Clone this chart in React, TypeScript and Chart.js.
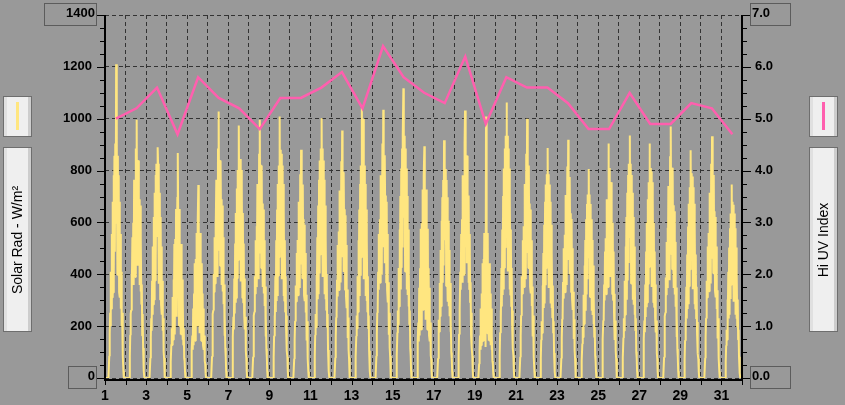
import { useEffect, useRef } from "react";
import { Chart, registerables } from "chart.js";

Chart.register(...registerables);

// ---- data ----
const days = [1, 2, 3, 4, 5, 6, 7, 8, 9, 10, 11, 12, 13, 14, 15, 16, 17, 18, 19, 20, 21, 22, 23, 24, 25, 26, 27, 28, 29, 30, 31];
const monthEnd = 32;
// half-hourly readings from 04:00 to 22:00
const solarHours = [4, 4.5, 5, 5.5, 6, 6.5, 7, 7.5, 8, 8.5, 9, 9.5, 10, 10.5, 11, 11.5, 12, 12.5, 13, 13.5, 14, 14.5, 15, 15.5, 16, 16.5, 17, 17.5, 18, 18.5, 19, 19.5, 20, 20.5, 21, 21.5, 22];
const nightValue = 0;
const uvReadingHour = 12.75;

const solarRadLabel = "Solar Rad - W/m²";
const uvLabel = "Hi UV Index";

const solarTicks = [0, 200, 400, 600, 800, 1000, 1200, 1400];
const uvTicks = [0, 1, 2, 3, 4, 5, 6, 7];
const xTickLabels = [1, 3, 5, 7, 9, 11, 13, 15, 17, 19, 21, 23, 25, 27, 29, 31];
const solarMinorStep = 50;
const uvMinorStep = 0.25;

const uvHigh = [5.0, 5.2, 5.6, 4.7, 5.8, 5.4, 5.2, 4.8, 5.4, 5.4, 5.6, 5.9, 5.2, 6.4, 5.8, 5.5, 5.3, 6.2, 4.9, 5.8, 5.6, 5.6, 5.3, 4.8, 4.8, 5.5, 4.9, 4.9, 5.3, 5.2, 4.7];

// solar radiation (W/m²), one row per day, values at solarHours
const solarRad: number[][] = [
  [0, 0, 85, 169, 252, 200, 410, 267, 555, 310, 680, 330, 782, 412, 857, 487, 904, 595, 1210, 641, 904, 398, 857, 494, 782, 330, 680, 310, 555, 267, 410, 200, 252, 110, 85, 28, 0],
  [0, 0, 83, 166, 247, 261, 401, 332, 543, 364, 599, 359, 765, 484, 713, 390, 885, 627, 996, 493, 841, 433, 839, 524, 689, 359, 665, 334, 543, 284, 361, 163, 247, 116, 83, 27, 0],
  [0, 0, 77, 155, 230, 182, 375, 244, 507, 283, 621, 302, 714, 376, 783, 444, 826, 544, 630, 890, 826, 364, 783, 451, 714, 302, 621, 283, 507, 244, 375, 182, 230, 101, 77, 25, 0],
  [0, 0, 64, 129, 192, 127, 312, 148, 380, 165, 517, 168, 536, 251, 652, 236, 413, 697, 868, 627, 344, 202, 652, 251, 476, 168, 517, 165, 380, 148, 312, 127, 192, 77, 64, 21, 0],
  [0, 0, 55, 110, 164, 109, 268, 126, 326, 141, 443, 144, 459, 215, 559, 202, 354, 598, 744, 538, 295, 173, 559, 215, 408, 144, 443, 141, 326, 126, 268, 109, 164, 66, 55, 18, 0],
  [0, 0, 83, 166, 247, 261, 401, 332, 543, 364, 599, 560, 765, 484, 713, 390, 885, 627, 1028, 493, 841, 433, 839, 620, 689, 359, 665, 334, 543, 284, 361, 163, 247, 116, 83, 27, 0],
  [0, 0, 79, 158, 236, 187, 384, 249, 519, 290, 636, 309, 731, 385, 802, 455, 845, 974, 559, 600, 845, 372, 802, 462, 731, 309, 636, 290, 519, 249, 384, 187, 236, 103, 79, 26, 0],
  [0, 0, 81, 162, 241, 255, 392, 325, 531, 356, 585, 351, 748, 473, 697, 381, 865, 613, 996, 482, 822, 424, 820, 512, 673, 351, 650, 326, 531, 278, 353, 160, 241, 113, 81, 26, 0],
  [0, 0, 81, 162, 241, 191, 392, 255, 531, 297, 650, 316, 748, 394, 820, 466, 1009, 569, 880, 613, 865, 381, 820, 473, 748, 316, 650, 297, 531, 255, 392, 191, 241, 105, 81, 26, 0],
  [0, 0, 74, 147, 219, 232, 357, 295, 482, 323, 532, 319, 680, 430, 634, 347, 786, 558, 880, 438, 747, 385, 746, 465, 612, 319, 591, 296, 482, 253, 321, 145, 219, 103, 74, 24, 0],
  [0, 0, 83, 166, 247, 196, 401, 261, 543, 304, 665, 323, 765, 403, 839, 476, 885, 582, 1002, 627, 885, 390, 839, 484, 765, 323, 665, 304, 543, 261, 401, 196, 247, 108, 83, 27, 0],
  [0, 0, 78, 156, 233, 246, 379, 314, 513, 344, 565, 339, 723, 457, 673, 368, 836, 593, 955, 466, 794, 409, 792, 495, 651, 339, 628, 315, 513, 269, 341, 154, 233, 109, 78, 26, 0],
  [0, 0, 81, 162, 241, 191, 392, 255, 531, 297, 650, 316, 748, 394, 820, 466, 1041, 569, 600, 1000, 865, 381, 820, 473, 748, 316, 650, 297, 531, 255, 392, 191, 241, 105, 81, 26, 0],
  [0, 0, 85, 169, 252, 266, 410, 340, 555, 372, 612, 367, 782, 494, 728, 398, 904, 641, 1035, 504, 859, 443, 857, 535, 704, 367, 680, 341, 555, 291, 369, 167, 252, 118, 85, 28, 0],
  [0, 0, 87, 175, 260, 206, 424, 276, 573, 320, 702, 341, 808, 425, 885, 503, 934, 1117, 618, 662, 934, 411, 885, 553, 808, 341, 702, 320, 573, 276, 424, 206, 260, 114, 87, 29, 0],
  [0, 0, 72, 144, 214, 141, 348, 164, 423, 184, 576, 187, 597, 279, 727, 263, 460, 777, 894, 699, 384, 225, 727, 279, 530, 187, 576, 184, 423, 164, 348, 141, 214, 86, 72, 23, 0],
  [0, 0, 75, 151, 225, 178, 366, 238, 494, 277, 606, 294, 697, 367, 764, 434, 917, 531, 820, 572, 806, 355, 764, 441, 697, 294, 606, 277, 494, 238, 366, 178, 225, 98, 75, 25, 0],
  [0, 0, 85, 169, 252, 266, 410, 340, 555, 372, 612, 367, 782, 494, 728, 398, 904, 1032, 700, 504, 859, 443, 857, 535, 704, 367, 680, 341, 555, 291, 369, 167, 252, 118, 85, 28, 0],
  [0, 0, 55, 110, 164, 109, 268, 126, 326, 141, 443, 144, 459, 215, 559, 464, 354, 120, 1009, 538, 295, 173, 559, 215, 408, 144, 443, 141, 326, 126, 268, 109, 164, 66, 55, 18, 0],
  [0, 0, 87, 175, 260, 206, 424, 276, 573, 320, 702, 341, 808, 425, 885, 503, 934, 615, 1063, 662, 934, 411, 885, 553, 808, 341, 702, 320, 573, 276, 424, 206, 260, 114, 87, 29, 0],
  [0, 0, 81, 162, 241, 255, 392, 325, 531, 356, 585, 351, 748, 473, 697, 381, 865, 613, 1000, 482, 822, 424, 820, 512, 673, 351, 650, 326, 531, 278, 353, 160, 241, 113, 81, 26, 0],
  [0, 0, 74, 147, 219, 174, 357, 232, 482, 270, 591, 287, 680, 358, 746, 424, 786, 518, 887, 558, 786, 347, 746, 430, 680, 287, 591, 270, 482, 232, 357, 174, 219, 96, 74, 24, 0],
  [0, 0, 76, 153, 227, 240, 370, 306, 500, 335, 552, 331, 706, 446, 658, 359, 816, 579, 919, 455, 775, 399, 774, 483, 635, 331, 613, 307, 500, 262, 333, 150, 227, 107, 76, 25, 0],
  [0, 0, 66, 132, 197, 157, 321, 208, 434, 243, 532, 259, 612, 322, 671, 381, 708, 466, 806, 502, 708, 312, 671, 386, 612, 259, 532, 243, 434, 208, 321, 157, 197, 86, 66, 22, 0],
  [0, 0, 75, 149, 222, 234, 361, 299, 488, 328, 539, 323, 689, 435, 642, 351, 904, 565, 810, 444, 756, 390, 755, 471, 620, 323, 599, 300, 488, 256, 325, 147, 222, 104, 75, 24, 0],
  [0, 0, 77, 155, 230, 182, 375, 244, 507, 283, 621, 302, 714, 376, 783, 444, 826, 544, 935, 586, 826, 364, 783, 451, 714, 302, 621, 283, 507, 244, 375, 182, 230, 101, 77, 25, 0],
  [0, 0, 75, 149, 222, 176, 361, 235, 488, 273, 599, 291, 689, 363, 755, 428, 904, 525, 810, 565, 796, 351, 755, 435, 689, 291, 599, 273, 488, 235, 361, 176, 222, 97, 75, 24, 0],
  [0, 0, 80, 160, 238, 252, 388, 321, 525, 352, 579, 347, 740, 467, 690, 377, 855, 607, 970, 477, 812, 419, 811, 506, 666, 347, 643, 322, 525, 275, 349, 158, 238, 112, 80, 26, 0],
  [0, 0, 73, 145, 216, 172, 352, 229, 476, 266, 584, 284, 672, 354, 736, 418, 878, 551, 790, 551, 777, 342, 736, 424, 672, 284, 584, 266, 476, 229, 352, 172, 216, 95, 73, 24, 0],
  [0, 0, 77, 155, 230, 243, 375, 310, 507, 340, 559, 335, 714, 451, 666, 364, 826, 586, 932, 460, 785, 404, 783, 489, 643, 335, 621, 311, 507, 266, 338, 152, 230, 108, 77, 25, 0],
  [0, 0, 63, 125, 186, 148, 303, 197, 410, 229, 503, 244, 578, 305, 634, 360, 746, 440, 680, 474, 668, 294, 634, 365, 578, 244, 503, 229, 410, 197, 303, 148, 186, 82, 63, 20, 0],
];

// ---- style ----
const BG = "#999999";
const YELLOW = "#ffe680";
const PINK = "#ff5fae";
const GRID = "#333333";
const FONT = "'Liberation Sans', Arial, sans-serif";

const decorPlugin = {
  id: "decor",
  beforeDraw(chart: any) {
    const ctx = chart.ctx;
    ctx.save();
    ctx.fillStyle = BG;
    ctx.fillRect(0, 0, chart.width, chart.height);
    ctx.restore();
  },
  afterDraw(chart: any) {
    const ctx = chart.ctx;
    const area = chart.chartArea;
    const ys = chart.scales.ySolar;
    const yu = chart.scales.yUV;
    const xs = chart.scales.x;
    const left = Math.round(area.left);
    const right = Math.round(area.right);
    const top = Math.round(area.top);
    const bottom = Math.round(area.bottom);
    ctx.save();
    // axis lines
    ctx.strokeStyle = "#000";
    ctx.lineWidth = 2;
    ctx.beginPath();
    ctx.moveTo(left, top);
    ctx.lineTo(left, bottom + 3);
    ctx.moveTo(right, top);
    ctx.lineTo(right, bottom + 3);
    ctx.moveTo(left - 1, bottom + 2);
    ctx.lineTo(right + 1, bottom + 2);
    ctx.stroke();
    // ticks
    ctx.lineWidth = 1;
    ctx.beginPath();
    const sMax = solarTicks[solarTicks.length - 1];
    const sMajor = solarTicks[1] - solarTicks[0];
    for (let v = 0; v <= sMax; v += solarMinorStep) {
      const y = Math.round(ys.getPixelForValue(v)) + 0.5;
      const len = v % sMajor === 0 ? 7 : 4;
      ctx.moveTo(left - 1 - len, y);
      ctx.lineTo(left, y);
    }
    const uMax = uvTicks[uvTicks.length - 1];
    for (let v = 0; v <= uMax + 1e-9; v += uvMinorStep) {
      const y = Math.round(yu.getPixelForValue(v)) + 0.5;
      const len = Math.abs(v - Math.round(v)) < 1e-9 ? 8 : 4;
      ctx.moveTo(right, y);
      ctx.lineTo(right + 1 + len, y);
    }
    for (let d = days[0]; d <= monthEnd; d++) {
      const x = Math.round(xs.getPixelForValue(d)) + 0.5;
      ctx.moveTo(x, bottom + 3);
      ctx.lineTo(x, bottom + 7);
    }
    ctx.stroke();

    // min / max boxes
    ctx.strokeStyle = "#5c5c5c";
    ctx.lineWidth = 1;
    const yTop = Math.round(ys.getPixelForValue(sMax));
    const yBot = Math.round(ys.getPixelForValue(0));
    ctx.strokeRect(left - 60.5, yTop - 11.5, 52, 22);
    ctx.strokeRect(left - 36.5, yBot - 11.5, 28, 22);
    ctx.strokeRect(right + 8.5, yTop - 11.5, 40, 22);
    ctx.strokeRect(right + 8.5, yBot - 11.5, 40, 22);
    ctx.fillStyle = "#000";
    ctx.font = `bold 13px ${FONT}`;
    ctx.textBaseline = "middle";
    ctx.textAlign = "right";
    ctx.fillText(String(sMax), left - 10, yTop - 2);
    ctx.fillText(String(solarTicks[0]), left - 10, yBot - 2);
    ctx.textAlign = "left";
    ctx.fillText(uMax.toFixed(1), right + 10, yTop - 2);
    ctx.fillText(uvTicks[0].toFixed(1), right + 10, yBot - 2);

    // legend panels
    const panel = (x: number, y: number, w: number, h: number) => {
      ctx.fillStyle = "#efefef";
      ctx.fillRect(x, y, w, h);
      ctx.fillStyle = "#e0e0e0";
      ctx.fillRect(x + 1, y + 1, 3, h - 2);
      ctx.fillStyle = "#cdcdcd";
      ctx.fillRect(x + w - 4, y + 1, 3, h - 2);
      ctx.strokeStyle = "#6e6e6e";
      ctx.lineWidth = 1;
      ctx.strokeRect(x + 0.5, y + 0.5, w - 1, h - 1);
    };
    const swatch = (cx: number, color: string) => {
      ctx.strokeStyle = color;
      ctx.lineWidth = 3;
      ctx.beginPath();
      ctx.moveTo(cx, 102);
      ctx.lineTo(cx, 130);
      ctx.stroke();
    };
    const vtext = (cx: number, cy: number, t: string) => {
      ctx.save();
      ctx.translate(cx, cy);
      ctx.rotate(-Math.PI / 2);
      ctx.fillStyle = "#000";
      ctx.font = `14px ${FONT}`;
      ctx.textAlign = "center";
      ctx.textBaseline = "middle";
      ctx.fillText(t, 0, 0);
      ctx.restore();
    };
    panel(3, 96, 29, 41);
    swatch(17.5, YELLOW);
    panel(3, 147, 29, 185);
    vtext(18, 240, solarRadLabel);
    panel(809, 96, 29, 41);
    swatch(823.5, PINK);
    panel(809, 147, 29, 185);
    vtext(824, 240, uvLabel);
    ctx.restore();
  },
};

export default function App() {
  const ref = useRef<HTMLCanvasElement | null>(null);
  useEffect(() => {
    if (!ref.current) return;
    const solarPoints: { x: number; y: number }[] = [];
    days.forEach((d, i) => {
      solarPoints.push({ x: d, y: nightValue });
      solarHours.forEach((h, j) => solarPoints.push({ x: d + h / 24, y: solarRad[i][j] }));
    });
    solarPoints.push({ x: monthEnd, y: nightValue });
    const uvPoints = days.map((d, i) => ({ x: d + uvReadingHour / 24, y: uvHigh[i] }));

    const tickFont = { family: FONT, size: 13, weight: "bold" as const };
    const chart = new Chart(ref.current, {
      type: "line",
      data: {
        datasets: [
          {
            label: uvLabel,
            data: uvPoints,
            yAxisID: "yUV",
            borderColor: PINK,
            borderWidth: 2.5,
            pointRadius: 0,
            tension: 0,
            order: 0,
          },
          {
            label: solarRadLabel,
            data: solarPoints,
            yAxisID: "ySolar",
            borderColor: YELLOW,
            borderWidth: 2,
            pointRadius: 0,
            tension: 0,
            borderJoinStyle: "bevel",
            order: 1,
          },
        ],
      },
      options: {
        animation: false,
        responsive: false,
        devicePixelRatio: 1,
        layout: { padding: { top: 15, left: 0, right: 0, bottom: 0 } },
        plugins: { legend: { display: false }, tooltip: { enabled: false } },
        events: [],
        scales: {
          x: {
            type: "linear",
            min: days[0],
            max: monthEnd,
            afterFit: (s: any) => {
              s.height = 27;
              s.paddingLeft = 0;
              s.paddingRight = 0;
            },
            ticks: {
              stepSize: 1,
              autoSkip: false,
              maxRotation: 0,
              padding: 10,
              color: "#000",
              font: { family: FONT, size: 14, weight: "bold" },
              callback: (v: any) => (xTickLabels.includes(Number(v)) ? String(v) : ""),
            },
            grid: { color: GRID, lineWidth: 1, drawTicks: false },
            border: { display: false, dash: [4, 3] },
          },
          ySolar: {
            type: "linear",
            position: "left",
            min: solarTicks[0],
            max: solarTicks[solarTicks.length - 1],
            afterFit: (s: any) => {
              s.width = 105;
              s.paddingTop = 0;
              s.paddingBottom = 0;
            },
            ticks: {
              stepSize: solarTicks[1] - solarTicks[0],
              padding: 13,
              color: "#000",
              font: tickFont,
              callback: (v: any) =>
                v === solarTicks[0] || v === solarTicks[solarTicks.length - 1] ? "" : String(v),
            },
            grid: { color: GRID, lineWidth: 1, drawTicks: false },
            border: { display: false, dash: [4, 3] },
          },
          yUV: {
            type: "linear",
            position: "right",
            min: uvTicks[0],
            max: uvTicks[uvTicks.length - 1],
            afterFit: (s: any) => {
              s.width = 103;
              s.paddingTop = 0;
              s.paddingBottom = 0;
            },
            ticks: {
              stepSize: 1,
              padding: 13,
              color: "#000",
              font: tickFont,
              callback: (v: any) =>
                v === uvTicks[0] || v === uvTicks[uvTicks.length - 1] ? "" : Number(v).toFixed(1),
            },
            grid: { drawOnChartArea: false, drawTicks: false },
            border: { display: false },
          },
        },
      },
      plugins: [decorPlugin],
    });
    return () => chart.destroy();
  }, []);

  return (
    <div style={{ position: "fixed", left: 0, top: 0, width: 845, height: 405, background: BG }}>
      <canvas ref={ref} width={845} height={405} style={{ display: "block" }} />
    </div>
  );
}
